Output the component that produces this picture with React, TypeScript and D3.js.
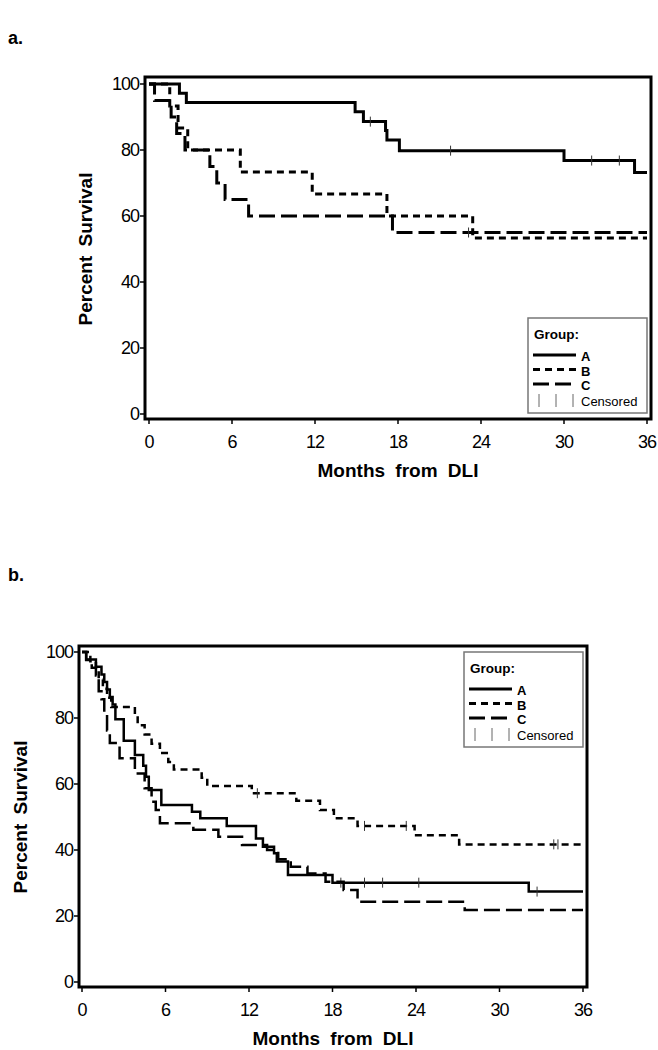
import React, { useEffect, useRef } from 'react'
import * as d3 from 'd3'

const monthTicks = [0, 6, 12, 18, 24, 30, 36]
const pctTicks = [0, 20, 40, 60, 80, 100]
const groupNames = ['A', 'B', 'C']

// panel a: step times (months) and survival (%)
const aTimesA = [0, 2.2, 2.7, 14.9, 15.5, 17.1, 17.2, 18.1, 30.0, 35.1]
const aSurvA = [100, 97.2, 94.4, 91.6, 88.6, 85.9, 83.0, 79.8, 76.8, 73.2]
const aCensA = [16.0, 21.8, 32.0, 34.0]
const aTimesB = [0, 1.5, 2.1, 2.8, 6.6, 11.8, 17.2, 23.4]
const aSurvB = [100, 93.3, 86.7, 80, 73.3, 66.7, 60, 53.3]
const aCensB: number[] = []
const aTimesC = [0, 0.4, 1.6, 2.0, 2.6, 4.4, 4.9, 5.5, 7.2, 17.6]
const aSurvC = [100, 95, 90, 85, 80, 75, 70, 65, 60, 55]
const aCensC = [23.1]

// panel b
const bTimesA = [0, 0.3, 1.0, 1.4, 1.6, 1.8, 2.0, 2.2, 2.4, 3.0, 3.8, 4.4, 4.6, 4.8, 5.7, 7.9, 8.5, 10.4, 12.5, 13.0, 13.8, 14.0, 14.8, 18.0, 32.1]
const bSurvA = [100, 97.7, 95.5, 93.2, 90.9, 88.6, 86.4, 84.1, 79.6, 73.1, 68.8, 65.5, 62.2, 58.2, 53.6, 51.6, 49.6, 47.3, 43.5, 41.0, 39.0, 36.5, 32.4, 30.1, 27.4]
const bCensA = [18.6, 20.3, 21.6, 24.2, 32.7]
const bTimesB = [0, 0.6, 1.0, 1.2, 1.5, 1.8, 2.1, 3.8, 4.0, 4.5, 5.0, 5.6, 6.2, 6.6, 8.6, 9.0, 12.2, 15.4, 17.1, 18.1, 19.8, 23.9, 27.1]
const bSurvB = [100, 97.2, 94.4, 91.7, 88.9, 86.1, 83.3, 80.6, 77.8, 75.0, 72.2, 69.4, 66.7, 64.4, 61.9, 59.4, 57.2, 54.9, 52.1, 49.6, 47.3, 44.5, 41.7]
const bCensB = [12.6, 20.3, 23.3, 33.9, 34.2]
const bTimesC = [0, 0.3, 0.7, 1.0, 1.2, 1.4, 1.6, 1.8, 2.0, 2.7, 3.8, 4.5, 5.0, 5.3, 5.6, 8.0, 9.8, 11.5, 13.3, 14.1, 15.0, 16.2, 17.5, 18.8, 19.8, 27.5]
const bSurvC = [100, 97.6, 95.2, 92.9, 88.1, 85.7, 81.0, 76.2, 72.4, 67.8, 63.2, 58.7, 54.6, 52.1, 48.1, 46.1, 44.0, 41.5, 40.0, 37.2, 34.9, 32.9, 30.4, 27.9, 24.3, 21.8]
const bCensC: number[] = []

const FONT = '"Liberation Sans", Arial, sans-serif'
const dashes = [null, '7,5', '16,6']

function drawPanel(svg, p) {
    const g = svg.append('g')
    const x = d3.scaleLinear().domain([0, 36]).range([p.x0, p.x1])
    const y = d3.scaleLinear().domain([0, 100]).range([p.y0, p.y1])

    // panel letter
    g.append('text').attr('x', 8).attr('y', p.labelY).text(p.label)
        .attr('font-size', 18).attr('font-weight', 'bold')

    // frame
    g.append('rect').attr('x', p.fl).attr('y', p.ft)
        .attr('width', p.fr - p.fl).attr('height', p.fb - p.ft)
        .attr('fill', 'none').attr('stroke', '#000').attr('stroke-width', 3)

    // axes ticks + labels
    pctTicks.forEach(v => {
        g.append('line').attr('x1', p.fl - 5).attr('x2', p.fl).attr('y1', y(v)).attr('y2', y(v))
            .attr('stroke', '#000').attr('stroke-width', 1.5)
        g.append('text').attr('x', p.fl - 6).attr('y', y(v)).attr('dy', '0.36em')
            .attr('text-anchor', 'end').attr('font-size', 18).attr('letter-spacing', -1).text(v)
    })
    monthTicks.forEach(m => {
        g.append('line').attr('x1', x(m)).attr('x2', x(m)).attr('y1', p.fb).attr('y2', p.fb + 5)
            .attr('stroke', '#000').attr('stroke-width', 1.5)
        g.append('text').attr('x', x(m)).attr('y', p.fb + 23).attr('dy', '0.36em')
            .attr('text-anchor', 'middle').attr('font-size', 18).attr('letter-spacing', -1).text(m)
    })

    g.append('text').attr('x', (p.fl + p.fr) / 2).attr('y', p.xTitleY).attr('dy', '0.36em')
        .attr('text-anchor', 'middle').attr('font-size', 19).attr('font-weight', 'bold')
        .attr('word-spacing', 5).text('Months from DLI')
    g.append('text').attr('transform', `translate(${p.yTitleX},${(y(0) + y(100)) / 2}) rotate(-90)`)
        .attr('dy', '0.36em').attr('text-anchor', 'middle').attr('font-size', 19).attr('font-weight', 'bold')
        .attr('word-spacing', 4).text('Percent Survival')

    const line = d3.line().x(d => x(d[0])).y(d => y(d[1])).curve(d3.curveStepAfter)
    p.series.forEach((s, i) => {
        const pts = s.t.map((t, k) => [t, s.v[k]])
        pts.push([36, s.v[s.v.length - 1]])
        g.append('path').attr('d', line(pts)).attr('fill', 'none').attr('stroke', '#000')
            .attr('stroke-width', p.lw).attr('stroke-dasharray', dashes[i])
        s.c.forEach(ct => {
            const k = d3.bisectRight(s.t, ct) - 1
            g.append('line').attr('x1', x(ct)).attr('x2', x(ct))
                .attr('y1', y(s.v[k]) - 5).attr('y2', y(s.v[k]) + 5)
                .attr('stroke', '#333').attr('stroke-width', 1)
        })
    })

    // legend
    const L = p.legend
    const lg = g.append('g').attr('transform', `translate(${L.x},${L.y})`)
    lg.append('rect').attr('width', 119).attr('height', 95).attr('fill', '#fff')
        .attr('stroke', '#777').attr('stroke-width', 1.5)
    lg.append('text').attr('x', 6).attr('y', 21).attr('font-size', 13.5).attr('font-weight', 'bold').text('Group:')
    groupNames.forEach((n, i) => {
        const yy = 40 + i * 14.5
        lg.append('line').attr('x1', 5).attr('x2', 48).attr('y1', yy - 3).attr('y2', yy - 3)
            .attr('stroke', '#000').attr('stroke-width', 3).attr('stroke-dasharray', dashes[i])
        lg.append('text').attr('x', 53).attr('y', yy + 3).attr('font-size', 13).attr('font-weight', 'bold').text(n)
    })
    ;[11, 28, 45].forEach(cx => {
        lg.append('line').attr('x1', cx).attr('x2', cx).attr('y1', 76).attr('y2', 89)
            .attr('stroke', '#666').attr('stroke-width', 1)
    })
    lg.append('text').attr('x', 53).attr('y', 88).attr('font-size', 13).text('Censored')
}

const App = () => {
    const ref = useRef(null)
    useEffect(() => {
        const svg = d3.select(ref.current)
        svg.selectAll('*').remove()
        drawPanel(svg, {
            label: 'a.', labelY: 44,
            x0: 149, x1: 647, y0: 414, y1: 84,
            fl: 145, fr: 651, ft: 77, fb: 419,
            xTitleY: 470, yTitleX: 85, lw: 3,
            legend: { x: 528, y: 318 },
            series: [
                { t: aTimesA, v: aSurvA, c: aCensA },
                { t: aTimesB, v: aSurvB, c: aCensB },
                { t: aTimesC, v: aSurvC, c: aCensC },
            ],
        })
        drawPanel(svg, {
            label: 'b.', labelY: 581,
            x0: 82, x1: 583, y0: 982, y1: 652,
            fl: 79, fr: 587, ft: 646, fb: 987,
            xTitleY: 1038, yTitleX: 20, lw: 2.5,
            legend: { x: 464, y: 652 },
            series: [
                { t: bTimesA, v: bSurvA, c: bCensA },
                { t: bTimesB, v: bSurvB, c: bCensB },
                { t: bTimesC, v: bSurvC, c: bCensC },
            ],
        })
    })
    return (
        <svg ref={ref} width={658} height={1050}
            style={{ position: 'absolute', left: 0, top: 0, background: '#fff', fontFamily: FONT }} />
    )
}

export default App
